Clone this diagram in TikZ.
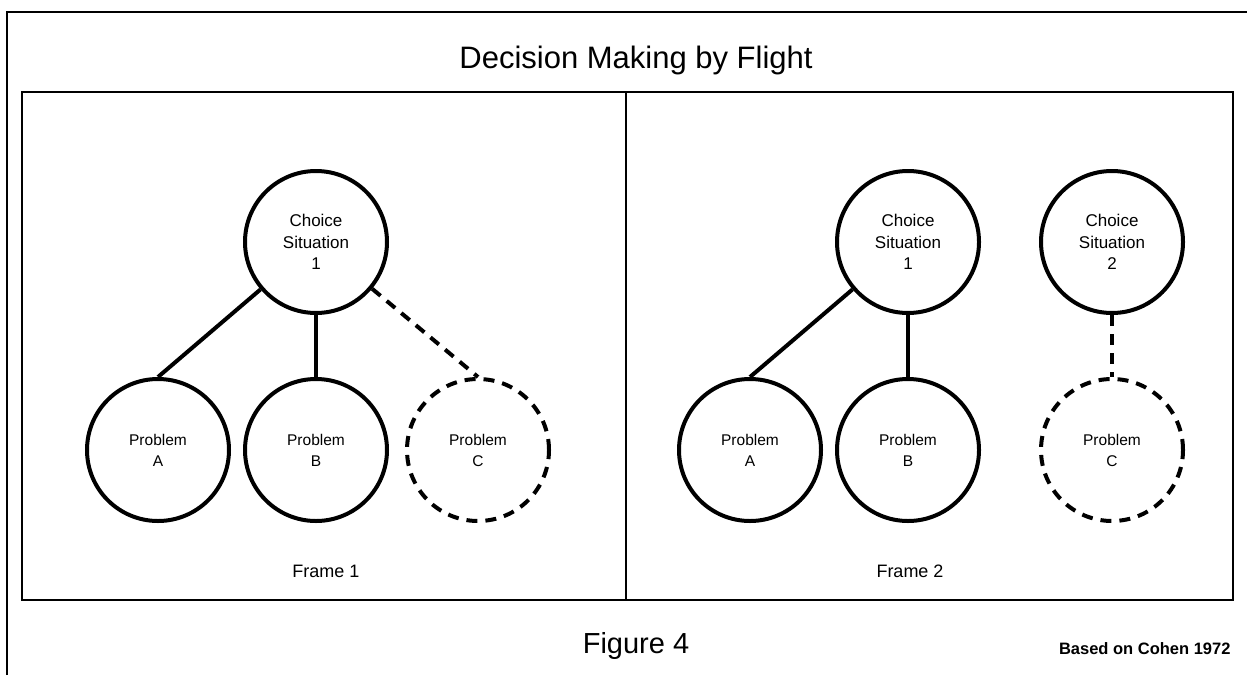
\documentclass[tikz,border=0pt]{standalone}
\usepackage{fontspec}
\setmainfont{Liberation Sans}
\begin{document}
\begin{tikzpicture}[x=1pt,y=-1pt,
  choice/.style={circle,draw,line width=4pt,minimum size=142pt,inner sep=0pt,align=center,font=\fontsize{17}{21.5}\selectfont},
  prob/.style={circle,draw,line width=4pt,minimum size=142pt,inner sep=0pt,align=center,font=\fontsize{15.5}{21}\selectfont},
  dprob/.style={prob,dash pattern=on 11pt off 8pt},
  link/.style={line width=4pt},
  dlink/.style={line width=4pt,dash pattern=on 11pt off 8pt},
  frame/.style={line width=2pt}]
\useasboundingbox (0,0) rectangle (1247,675);
% outer border
\coordinate (o1) at (7,675);
\coordinate (o2) at (7,12);
\coordinate (o3) at (1247,12);
\draw[line width=1.5pt] (o1) -- (o2) -- (o3);
% frames
\draw[frame] (22,92) rectangle (1233,600);
\coordinate (d1) at (626,92);
\coordinate (d2) at (626,600);
\draw[frame] (d1) -- (d2);
% title
\node[font=\fontsize{31}{36}\selectfont,anchor=base] (title) at (636,68) {Decision Making by Flight};
% frame 1
\node[choice] (c1) at (316,242) {Choice\\Situation\\1};
\node[prob] (a1) at (158,450) {Problem\\A};
\node[prob] (b1) at (316,450) {Problem\\B};
\node[dprob] (p1) at (478,450) {Problem\\C};
\draw[link] (c1) -- (a1.north);
\draw[link] (c1) -- (b1.north);
\draw[dlink] (c1) -- (p1.north);
\node[font=\fontsize{18}{20}\selectfont,anchor=base] (f1) at (326,577) {Frame 1};
% frame 2
\node[choice] (c2) at (908,242) {Choice\\Situation\\1};
\node[choice] (s2) at (1112,242) {Choice\\Situation\\2};
\node[prob] (a2) at (750,450) {Problem\\A};
\node[prob] (b2) at (908,450) {Problem\\B};
\node[dprob] (p2) at (1112,450) {Problem\\C};
\draw[link] (c2) -- (a2.north);
\draw[link] (c2) -- (b2.north);
\draw[dlink] (s2) -- (p2.north);
\node[font=\fontsize{18}{20}\selectfont,anchor=base] (f2) at (910,577) {Frame 2};
% caption
\node[font=\fontsize{29}{34}\selectfont,anchor=base] (fig) at (636,653) {Figure 4};
\node[font=\bfseries\fontsize{16.5}{20}\selectfont,anchor=base east] (src) at (1234,654) {Based on Cohen 1972};
\end{tikzpicture}
\end{document}
